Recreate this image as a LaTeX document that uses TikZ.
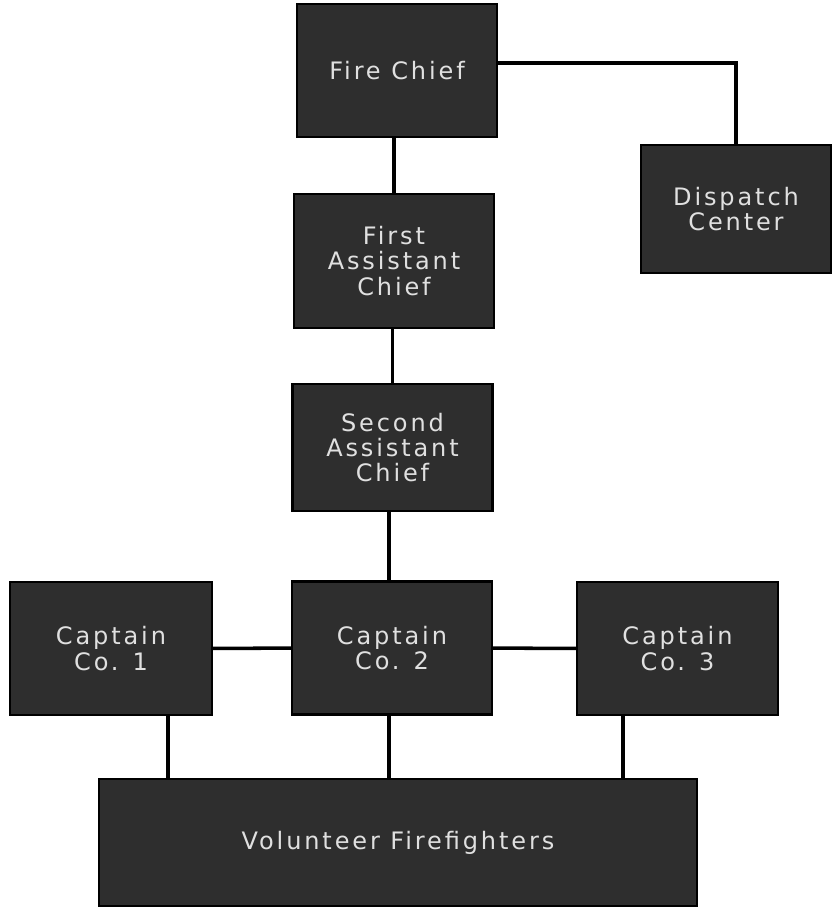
\documentclass[tikz,border=0pt]{standalone}
\usepackage{fontspec}
\setmainfont{DejaVu Sans}[LetterSpace=12]

\begin{document}
\begin{tikzpicture}[x=0.03cm, y=-0.03cm,
    rankbox/.style={draw=black, line width=2pt, fill=black!82, text=white!88!black,
        align=center, inner sep=0, minimum width=6cm, minimum height=3.99cm,
        font=\fontsize{20.5}{21.5}\selectfont},
    link/.style={line width=3pt, black}]

    \useasboundingbox (0, 0) rectangle (833, 910);

    % Chiefs
    \node[rankbox] (chief) at (397, 70.5) {Fire Chief};
    \node[rankbox, minimum width=5.7cm, minimum height=3.84cm] (dispatch) at (736, 209) {Dispatch\\Center};
    \node[rankbox, minimum height=4.02cm] (first) at (394, 261) {First\\Assistant\\Chief};
    \node[rankbox, minimum height=3.81cm] (second) at (392.5, 447.5) {Second\\Assistant\\Chief};

    % Captains
    \node[rankbox, minimum width=6.06cm] (capone) at (111, 648.5) {Captain\\Co. 1};
    \node[rankbox] (captwo) at (392, 648) {Captain\\Co. 2};
    \node[rankbox, minimum width=6.03cm] (capthree) at (677.5, 648.5) {Captain\\Co. 3};

    % Firefighters
    \node[rankbox, minimum width=17.94cm, minimum height=3.81cm] (volunteer) at (398, 842.5) {Volunteer Firefighters};

    \coordinate (dropone) at (168, 0);
    \coordinate (droptwo) at (389, 0);
    \coordinate (dropthree) at (623, 0);

    \draw[link] (first.north) -- (first.north |- chief.south);
    \draw[link] ([yshift=0.22cm]chief.east) -| (dispatch.north);
    \draw[link] (second.north) -- (second.north |- first.south);
    \draw[link] (captwo.north -| droptwo) -- (second.south -| droptwo);
    \draw[link] (capone) -- (captwo);
    \draw[link] (captwo) -- (capthree);
    \draw[link] (capone.south -| dropone) -- (volunteer.north -| dropone);
    \draw[link] (captwo.south -| droptwo) -- (volunteer.north -| droptwo);
    \draw[link] (capthree.south -| dropthree) -- (volunteer.north -| dropthree);

\end{tikzpicture}
\end{document}
